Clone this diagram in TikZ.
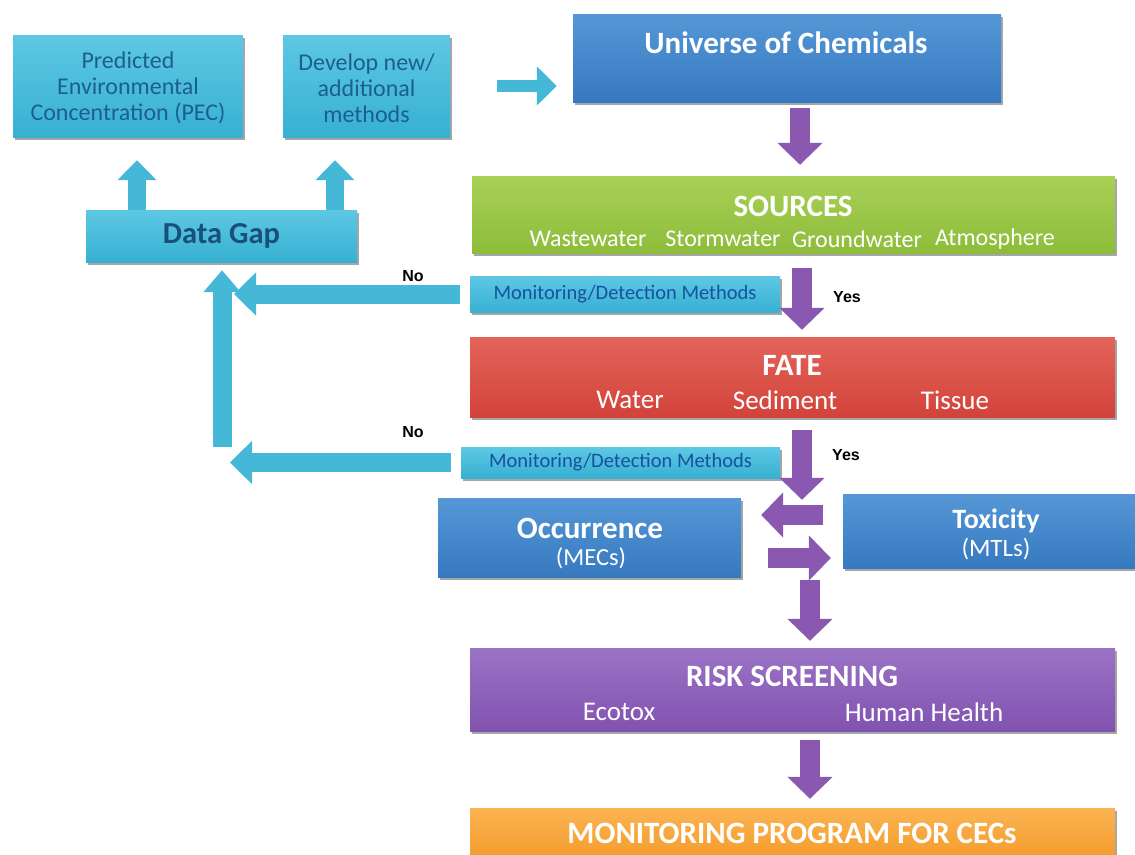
\documentclass[tikz,border=0pt]{standalone}
\usepackage{fontspec}
\setmainfont{Carlito}
\newfontfamily\arialfont{Liberation Sans}
\usetikzlibrary{arrows.meta,shadows,calc}
\definecolor{cyanbox}{HTML}{37B0D2}
\definecolor{cyantop}{HTML}{5DC8E4}
\definecolor{cyantext}{HTML}{1D5E8E}
\definecolor{bluebox}{HTML}{3679C0}
\definecolor{bluetop}{HTML}{5597D6}
\definecolor{greenbox}{HTML}{8DBC3A}
\definecolor{greentop}{HTML}{A8D157}
\definecolor{redbox}{HTML}{D2433A}
\definecolor{redtop}{HTML}{E4645A}
\definecolor{purplebox}{HTML}{8153B0}
\definecolor{purpletop}{HTML}{9B73C6}
\definecolor{orangebox}{HTML}{F39A2A}
\definecolor{orangetop}{HTML}{FBB452}
\definecolor{parrow}{HTML}{8A58B0}
\definecolor{carrow}{HTML}{45B7D7}
\tikzset{
  box/.style={rectangle, inner sep=0pt, draw=none,
    drop shadow={shadow xshift=2pt, shadow yshift=-3pt, opacity=.35, fill=black}},
  cyanb/.style={box, top color=cyantop, bottom color=cyanbox, text=cyantext},
  blueb/.style={box, top color=bluetop, bottom color=bluebox},
  greenb/.style={box, top color=greentop, bottom color=greenbox},
  redb/.style={box, top color=redtop, bottom color=redbox},
  purpleb/.style={box, top color=purpletop, bottom color=purplebox},
  orangeb/.style={box, top color=orangetop, bottom color=orangebox},
  wt/.style={text=white, inner sep=0pt},
  title/.style={wt, font=\fontsize{31}{36}\selectfont\bfseries},
  sub/.style={wt, font=\fontsize{27}{31}\selectfont},
  ssub/.style={wt, font=\fontsize{24}{28}\selectfont},
  parr/.style={draw=parrow, line width=20pt, -{Triangle[width=44pt,length=22pt]}},
  carr/.style={draw=carrow, line width=19pt, -{Triangle[width=42pt,length=22pt]}},
  yn/.style={inner sep=0pt, font=\arialfont\bfseries\fontsize{16}{19}\selectfont},
  montext/.style={font=\fontsize{20.5}{24}\selectfont, text=cyantext!85!blue}
}
\begin{document}
\begin{tikzpicture}[x=1pt,y=-1pt]
\useasboundingbox (0,0) rectangle (1135,854);
\fill[white] (0,0) rectangle (1135,854);

% top-left cyan boxes
\node[cyanb, minimum width=230pt, minimum height=102pt] (pec) at (128,86) {};
\node[inner sep=0pt, align=center, text=cyantext, font=\fontsize{24}{26}\selectfont]
  (pect) at (128,88) {Predicted\\Environmental\\Concentration (PEC)};
\node[cyanb, minimum width=167pt, minimum height=102pt] (dev) at (366.5,86) {};
\node[inner sep=0pt, align=center, text=cyantext, font=\fontsize{24}{26}\selectfont]
  (devt) at (366.5,88) {Develop new/\\additional\\methods};
\node[cyanb, minimum width=271pt, minimum height=52pt,
  font=\fontsize{30.5}{34}\selectfont\bfseries, text=cyantext!85!black] (gap) at (221.5,236) {Data Gap};

% main column
\node[blueb, minimum width=428pt, minimum height=88pt] (univ) at (787,58) {};
\node[title] (univt) at (786,43) {Universe of Chemicals};

\node[greenb, minimum width=643pt, minimum height=77pt] (src) at (793.5,214.5) {};
\node[title] (srct) at (793,206) {SOURCES};
\node[ssub] (s1) at (588,239) {Wastewater};
\node[ssub] (s2) at (723,239) {Stormwater};
\node[ssub] (s3) at (857,239) {Groundwater};
\node[ssub] (s4) at (995,239) {Atmosphere};

\node[cyanb, minimum width=310pt, minimum height=36pt, montext] (mon1) at (625,294) {Monitoring/Detection Methods};

\node[redb, minimum width=645pt, minimum height=80pt] (fate) at (792.5,377) {};
\node[title] (fatet) at (792,365) {FATE};
\node[sub] (f1) at (630,400) {Water};
\node[sub] (f2) at (785,400) {Sediment};
\node[sub] (f3) at (955,400) {Tissue};

\node[cyanb, minimum width=319pt, minimum height=31pt, montext] (mon2) at (620.5,462.5) {Monitoring/Detection Methods};

\node[blueb, minimum width=303pt, minimum height=79pt] (occ) at (589.5,537.5) {};
\node[title] (occt) at (590,528) {Occurrence};
\node[wt, font=\fontsize{24.5}{28}\selectfont] (occs) at (591,558) {(MECs)};

\node[blueb, minimum width=300pt, minimum height=74pt] (tox) at (993,531) {};
\node[title, font=\fontsize{28}{32}\selectfont\bfseries] (toxt) at (996,521) {Toxicity};
\node[wt, font=\fontsize{25}{29}\selectfont] (toxs) at (996,549) {(MTLs)};

\node[purpleb, minimum width=645pt, minimum height=83pt] (risk) at (792.5,689.5) {};
\node[title] (riskt) at (792,676) {RISK SCREENING};
\node[sub] (r1) at (619,712) {Ecotox};
\node[sub] (r2) at (924,712) {Human Health};

\node[orangeb, minimum width=645pt, minimum height=54pt] (prog) at (792.5,835) {};
\node[title] (progt) at (792,833) {MONITORING PROGRAM FOR CECs};

% labels
\node[yn] (no1) at (413,276) {No};
\node[yn] (no2) at (413,432) {No};
\node[yn] (yes1) at (847,297) {Yes};
\node[yn] (yes2) at (846,455) {Yes};

% cyan arrows
\draw[carr, line width=12pt, -{Triangle[width=38pt,length=20pt]}]
  ([xshift=47pt]dev.east) -- ([xshift=-16pt]univ.west |- dev.east);
\draw[carr, line width=18pt, -{Triangle[width=38pt,length=20pt]}]
  (gap.north -| 137,0) -- ([yshift=-23pt]pec.south -| 137,0);
\draw[carr, line width=18pt, -{Triangle[width=38pt,length=20pt]}]
  (gap.north -| 335,0) -- ([yshift=-23pt]dev.south -| 335,0);
\coordinate (vb) at (222,447);
\draw[carr, line width=19pt, -{Triangle[width=36pt,length=22pt]}]
  (vb) -- ([yshift=-8pt]gap.south -| vb);
\draw[carr] ([xshift=-10pt]mon1.west) -- (mon1.west -| 234,0);
\draw[carr] ([xshift=-10pt]mon2.west) -- (mon2.west -| 230,0);

% purple arrows
\draw[parr] ([yshift=-6pt]univ.south -| 800,0) -- ([yshift=11pt]src.north -| 800,0);
\draw[parr] ([yshift=-15pt]src.south -| 802,0) -- ([yshift=7pt]fate.north -| 802,0);
\draw[parr] ([yshift=-13pt]fate.south -| 802,0) -- ([yshift=-2pt]occ.north -| 802,0);
\draw[parr] ([xshift=-20pt]tox.west |- 0,515) -- ([xshift=20pt]occ.east |- 0,515);
\draw[parr] ([xshift=27pt]occ.east |- 0,558) -- ([xshift=-12pt]tox.west |- 0,558);
\draw[parr] ([yshift=-3pt]occ.south -| 810,0) -- ([yshift=7pt]risk.north -| 810,0);
\draw[parr] ([yshift=-9pt]risk.south -| 810,0) -- ([yshift=9pt]prog.north -| 810,0);
\end{tikzpicture}
\end{document}
